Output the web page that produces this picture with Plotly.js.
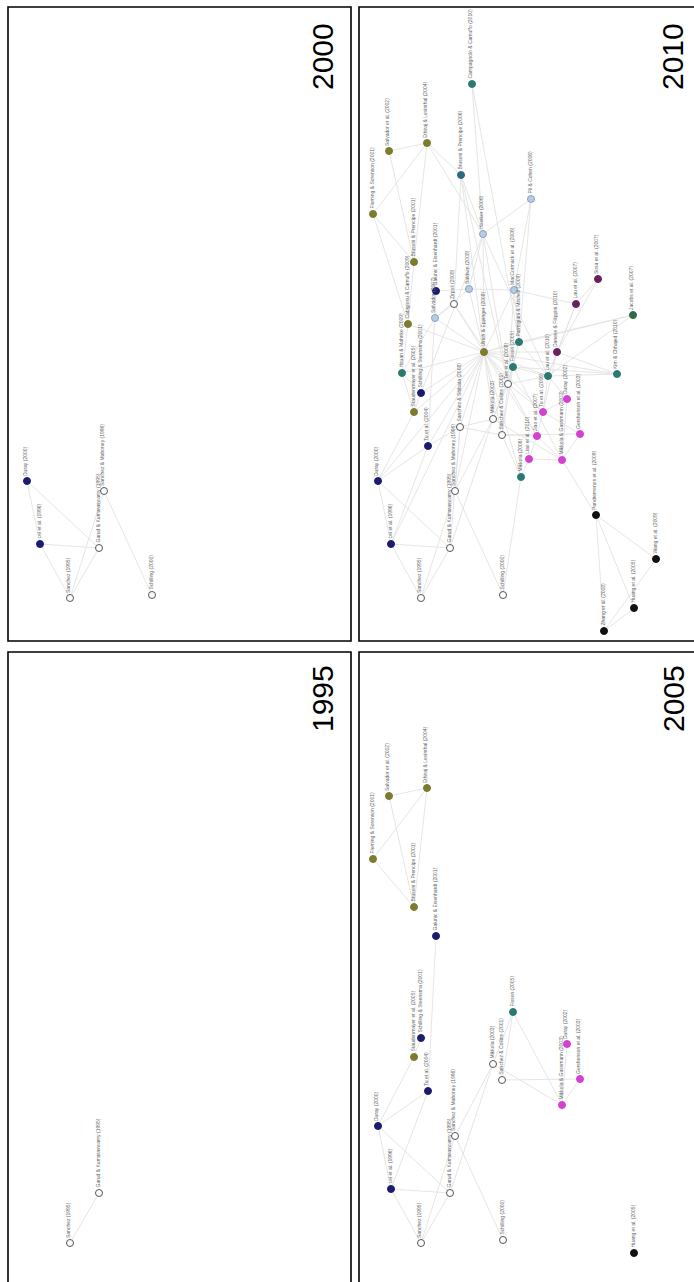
<!DOCTYPE html>
<html><head><meta charset="utf-8">
<script src="https://cdn.plot.ly/plotly-3.0.1.min.js"></script>
<style>html,body{margin:0;padding:0;background:#fff;}#chart{width:694px;height:1282px;}</style>
</head><body><div id="chart"></div>
<script>
// ---- data: nodes of the citation network (layout position, first year, cluster) ----
const nodeLabels = [
  "Sanchez (1995)", "Garud & Kumaraswamy (1995)", "Sanchez & Mahoney (1996)", "Lei et al. (1996)", "Duray (2000)", "Schilling (2000)",
  "Salvador et al. (2002)", "Ethiraj & Levinthal (2004)", "Fleming & Sorenson (2001)", "Brusoni & Prencipe (2001)", "Galunic & Eisenhardt (2001)",
  "Schilling & Steensma (2001)", "Staudenmayer et al. (2005)", "Tu et al. (2004)", "Mikkola (2003)", "Sanchez & Collins (2001)", "Fixson (2005)",
  "Duray (2002)", "Gershenson et al. (2003)", "Mikkola & Gassmann (2003)", "Huang et al. (2005)",
  "Campagnolo & Camuffo (2010)", "Brusoni & Prencipe (2006)", "Pil & Cohen (2006)", "Hoetker (2006)", "Sosa et al. (2007)",
  "Baldwin (2008)", "Zirpoli (2008)", "MacCormack et al. (2006)", "Lau et al. (2007)", "Jacobs et al. (2007)", "Salvador (2007)",
  "Cabigiosu & Camuffo (2009)", "Ulrich & Eppinger (2008)", "Parmigiani & Mitchell (2009)", "Danese & Filippini (2010)", "Lau et al. (2010)",
  "Kim & Chhajed (2010)", "Hsuan & Mahnke (2009)", "Tee et al. (2008)", "Tu et al. (2006)", "Sanchez & Shibata (2008)", "Jiao et al. (2007)",
  "Liao et al. (2010)", "Mikkola (2006)", "Pandremenos et al. (2009)", "Wang et al. (2009)", "Zhang et al. (2008)"
];
const nodeYears = [
  1995, 1995, 1996, 1996, 2000, 2000,
  2002, 2004, 2001, 2001, 2001,
  2001, 2005, 2004, 2003, 2001, 2005,
  2002, 2003, 2003, 2005,
  2010, 2006, 2006, 2006, 2007,
  2008, 2008, 2006, 2007, 2007, 2007,
  2009, 2008, 2009, 2010, 2010,
  2010, 2009, 2008, 2006, 2008, 2007,
  2010, 2006, 2009, 2009, 2008
];
const nodeGroups = [
  "W", "W", "W", "N", "N", "W",
  "O", "O", "O", "O", "N",
  "N", "O", "N", "W", "W", "T",
  "P", "P", "P", "K",
  "T", "TB", "LB", "LB", "M",
  "LB", "W", "LB", "M", "G", "LB",
  "O", "O", "T", "M", "T",
  "T", "T", "W", "P", "W", "P",
  "P", "T", "K", "K", "K"
];
const nodeX = [
  62, 91, 96, 32, 19, 144,
  30, 68, 14, 55, 77,
  62, 55, 69, 134, 143, 154,
  208, 221, 203, 275,
  113, 102, 172, 124, 239,
  110, 95, 155, 217, 274, 76,
  49, 125, 160, 198, 189,
  258, 43, 149, 184, 101, 178,
  170, 162, 237, 297, 245
];
const nodeY = [
  591, 541, 484, 537, 474, 588,
  144, 136, 207, 255, 284,
  386, 405, 439, 412, 428, 360,
  392, 427, 453, 601,
  77, 168, 192, 227, 272,
  282, 297, 283, 297, 308, 311,
  317, 345, 335, 345, 369,
  367, 366, 377, 405, 420, 429,
  452, 470, 508, 552, 624
];
// ---- citation edges (node indices) ----
const edgeSource = [
  0, 0, 3, 3, 4, 4, 2,
  6, 6, 8, 8, 7, 10, 4, 4, 3, 1, 2, 14, 15, 16, 15, 14, 17, 18, 11,
  21, 21, 22, 22, 22, 22, 23, 23, 23, 24, 24, 24, 24, 7, 7, 26, 10, 26, 26, 27, 27, 27,
  28, 28, 28, 28, 25, 25, 29, 29, 30, 30, 30, 31, 31, 32, 32, 32, 32,
  33, 33, 33, 33, 33, 33, 33, 33, 33, 33, 33, 33, 33, 33, 33, 33, 33, 33, 33,
  34, 34, 34, 35, 35, 36, 36, 36, 36, 36, 37, 37, 38, 38, 39, 39, 39, 39, 39,
  40, 40, 40, 41, 41, 41, 41, 42, 42, 42, 43, 43, 44, 44, 45, 45, 45, 45, 46, 20, 13, 11
];
const edgeTarget = [
  1, 2, 1, 0, 1, 3, 5,
  7, 9, 7, 9, 9, 13, 12, 13, 13, 14, 14, 16, 16, 19, 18, 19, 19, 19, 12,
  24, 34, 24, 27, 33, 39, 24, 34, 28, 26, 33, 36, 39, 24, 22, 28, 26, 33, 31, 33, 31, 39,
  33, 29, 39, 34, 29, 35, 36, 35, 36, 33, 34, 33, 38, 33, 8, 38, 9,
  34, 35, 36, 39, 14, 15, 16, 38, 41, 11, 12, 13, 40, 42, 44, 37, 2, 4, 3,
  39, 16, 36, 36, 40, 40, 37, 17, 39, 16, 16, 35, 12, 11, 14, 15, 16, 40, 42,
  42, 17, 18, 15, 14, 1, 2, 43, 19, 15, 44, 19, 5, 15, 46, 47, 20, 19, 47, 47, 41, 24
];
const panelYears = [2000, 2010, 1995, 2005];

// ---- styles ----
const groupFill = {W: "#ffffff", N: "#1c1c6e", O: "#7c7b2e", T: "#2b7a72", TB: "#2f6a82", LB: "#b7cbe2",
                   M: "#6c1f5c", G: "#2c6a48", P: "#d640d2", K: "#111111"};
const groupLine = {W: "#555555", N: "#1c1c6e", O: "#7c7b2e", T: "#2b7a72", TB: "#2f6a82", LB: "#8aa2c2",
                   M: "#6c1f5c", G: "#2c6a48", P: "#d640d2", K: "#111111"};
const W = 694, H = 1282;
// panel pixel boxes (left, top, right, bottom) in page pixels
const boxes = [
  {l: 8, t: 7, r: 351, b: 641, yl: 23, yr: 335},
  {l: 359, t: 7, r: 694, b: 641, yl: 23, yr: 685},
  {l: 8, t: 652, r: 351, b: 1282, yl: 665, yr: 335},
  {l: 359, t: 652, r: 694, b: 1282, yl: 665, yr: 686}
];

const traces = [];
const annotations = [];
const shapes = [];
const layout = {width: W, height: H, margin: {l: 0, r: 0, t: 0, b: 0}, showlegend: false,
  paper_bgcolor: "#fff", plot_bgcolor: "#fff", hovermode: false,
  font: {family: "Liberation Sans, Arial, sans-serif"}};

boxes.forEach((bx, p) => {
  const yr = panelYears[p];
  const sfx = p === 0 ? "" : String(p + 1);
  const xa = "x" + sfx, ya = "y" + sfx;
  layout["xaxis" + sfx] = {domain: [bx.l / W, Math.min(bx.r, W) / W], range: [0, bx.r - bx.l], visible: false, fixedrange: true};
  layout["yaxis" + sfx] = {domain: [1 - Math.min(bx.b, H) / H, 1 - bx.t / H], range: [bx.b - bx.t, 0], visible: false, fixedrange: true};
  const shown = nodeYears.map(y => y <= yr);
  // edges
  const ex = [], ey = [];
  edgeSource.forEach((s, i) => {
    const t = edgeTarget[i];
    if (shown[s] && shown[t]) { ex.push(nodeX[s], nodeX[t], null); ey.push(nodeY[s], nodeY[t], null); }
  });
  traces.push({type: "scatter", mode: "lines", x: ex, y: ey, xaxis: xa, yaxis: ya,
    line: {color: "#e2e2e2", width: 0.9}, hoverinfo: "skip", cliponaxis: false});
  // nodes by group
  Object.keys(groupFill).forEach(g => {
    const xs = [], ys = [];
    nodeX.forEach((x, i) => { if (shown[i] && nodeGroups[i] === g) { xs.push(x); ys.push(nodeY[i]); } });
    if (xs.length) traces.push({type: "scatter", mode: "markers", x: xs, y: ys, xaxis: xa, yaxis: ya,
      marker: {size: 7, color: groupFill[g], line: {color: groupLine[g], width: 1}}, hoverinfo: "skip", cliponaxis: false});
  });
  // node labels
  nodeLabels.forEach((lab, i) => {
    if (!shown[i]) return;
    annotations.push({text: lab, x: nodeX[i], y: nodeY[i], xref: xa, yref: ya, showarrow: false,
      textangle: -90, xanchor: "center", yanchor: "bottom", xshift: -2, yshift: 4,
      font: {size: 5, color: "#666"}, borderpad: 0});
  });
  // year label
  annotations.push({text: String(yr), xref: "paper", yref: "paper", x: (bx.yr + 5) / W, y: 1 - (bx.yl - 1) / H,
    xanchor: "right", yanchor: "top", showarrow: false, textangle: -90, borderpad: 0,
    font: {size: 30, color: "#000", family: "Liberation Sans, Arial, sans-serif"}});
  // frame (right/bottom panels run off the page edge)
  const fr = bx.r >= W ? bx.r + 10 : bx.r;
  const fb = bx.b >= H ? bx.b + 10 : bx.b;
  shapes.push({type: "rect", xref: "paper", yref: "paper", x0: bx.l / W, x1: fr / W,
    y0: 1 - fb / H, y1: 1 - bx.t / H, line: {color: "#000", width: 1.6}});
});
layout.annotations = annotations;
layout.shapes = shapes;
Plotly.newPlot("chart", traces, layout, {displayModeBar: false, staticPlot: true});
</script></body></html>
